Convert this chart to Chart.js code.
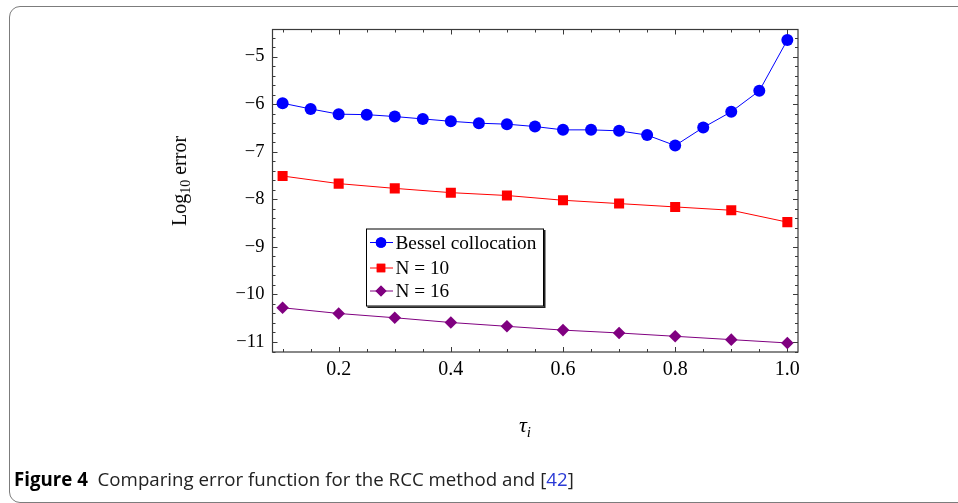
<!DOCTYPE html>
<html>
<head>
<meta charset="utf-8">
<script src="https://cdn.jsdelivr.net/npm/chart.js@4"></script>
<style>
  html, body { margin: 0; padding: 0; background: #fff; }
  body { width: 958px; height: 503px; position: relative; overflow: hidden; }
  #frame { position: absolute; left: 9px; top: 6px; width: 1100px; height: 497px;
           border: 1.6px solid #7c7c7c; border-radius: 11px; box-sizing: border-box; }
  #c { position: absolute; left: 0; top: 0; }
  .ytitle { position: absolute; left: 181px; top: 181px; transform: translate(-50%, -50%) rotate(-90deg);
            font-family: 'Liberation Serif', 'Times New Roman', serif; font-size: 20px; white-space: nowrap; color: #000; }
  .ytitle sub { font-size: 14px; vertical-align: -4px; }
  .xtitle { position: absolute; left: 525px; top: 426px; transform: translate(-50%, -50%);
            font-family: 'Liberation Serif', 'Times New Roman', serif; font-style: italic; font-size: 22px; white-space: nowrap; color: #000; }
  .xtitle sub { font-size: 15px; vertical-align: -5px; }
  .caption { position: absolute; left: 14px; top: 466px; font-family: 'Open Sans', 'Noto Sans', sans-serif;
             font-size: 18.7px; color: #222; white-space: nowrap; letter-spacing: 0px; }
  .caption b { color: #000; font-weight: 700; }
  .caption a { color: #2a3ad6; text-decoration: none; }
</style>
</head>
<body>
<div id="frame"></div>
<canvas id="c" width="958" height="503"></canvas>
<div class="ytitle">Log<sub>10</sub> error</div>
<div class="xtitle">τ<sub>i</sub></div>
<div class="caption"><b>Figure 4</b>&nbsp; Comparing error function for the RCC method and [<a>42</a>]</div>
<script>
// ---- data ----
const tauBessel = [0.1, 0.15, 0.2, 0.25, 0.3, 0.35, 0.4, 0.45, 0.5, 0.55, 0.6, 0.65, 0.7, 0.75, 0.8, 0.85, 0.9, 0.95, 1.0];
const besselErr = [-5.98, -6.10, -6.21, -6.22, -6.26, -6.31, -6.36, -6.40, -6.42, -6.47, -6.54, -6.54, -6.56, -6.65, -6.87, -6.49, -6.16, -5.72, -4.65];
const tauN = [0.1, 0.2, 0.3, 0.4, 0.5, 0.6, 0.7, 0.8, 0.9, 1.0];
const n10Err = [-7.51, -7.67, -7.77, -7.86, -7.92, -8.02, -8.09, -8.16, -8.23, -8.48];
const n16Err = [-10.28, -10.40, -10.49, -10.59, -10.67, -10.75, -10.81, -10.88, -10.95, -11.02];
const seriesNames = ['Bessel collocation', 'N = 10', 'N = 16'];
const xTickLabels = [0.2, 0.4, 0.6, 0.8, 1.0];
const yTickLabels = [-5, -6, -7, -8, -9, -10, -11];

const pts = (xs, ys) => xs.map((x, i) => ({ x: x, y: ys[i] }));
const serif = "'Liberation Serif', 'Times New Roman', serif";

const datasets = [
  { label: seriesNames[0], data: pts(tauBessel, besselErr), borderColor: '#0000ff', backgroundColor: '#0000ff',
    pointStyle: 'circle', pointRadius: 6, legendRadius: 5.3, borderWidth: 1, pointBorderWidth: 0 },
  { label: seriesNames[1], data: pts(tauN, n10Err), borderColor: '#ff0000', backgroundColor: '#ff0000',
    pointStyle: 'rect', pointRadius: 7.1, legendRadius: 6, borderWidth: 1, pointBorderWidth: 0 },
  { label: seriesNames[2], data: pts(tauN, n16Err), borderColor: '#800080', backgroundColor: '#800080',
    pointStyle: 'rectRot', pointRadius: 6.3, legendRadius: 5.5, borderWidth: 1, pointBorderWidth: 0 }
];

const framePlugin = {
  id: 'framePlugin',
  beforeDatasetsDraw(chart) {
    const { ctx, chartArea: a, scales: { x, y } } = chart;
    ctx.save();
    ctx.strokeStyle = '#3a3a3a';
    ctx.lineWidth = 1.2;
    ctx.strokeRect(a.left, a.top, a.right - a.left, a.bottom - a.top);
    const major = 5, minor = 3;
    ctx.lineWidth = 1;
    ctx.beginPath();
    // x ticks (bottom & top)
    for (let k = Math.ceil(x.min / 0.05 - 1e-9); k * 0.05 <= x.max + 1e-9; k++) {
      const v = k * 0.05;
      const isMajor = Math.abs(v / 0.2 - Math.round(v / 0.2)) < 1e-6;
      const len = isMajor ? major : minor;
      const px = Math.round(x.getPixelForValue(v)) + 0.5;
      ctx.moveTo(px, a.bottom); ctx.lineTo(px, a.bottom - len);
      ctx.moveTo(px, a.top); ctx.lineTo(px, a.top + len);
    }
    // y ticks (left & right)
    for (let k = Math.ceil(y.min / 0.2 - 1e-9); k * 0.2 <= y.max + 1e-9; k++) {
      const v = k * 0.2;
      const isMajor = Math.abs(v - Math.round(v)) < 1e-6;
      const len = isMajor ? major : minor;
      const py = Math.round(y.getPixelForValue(v)) + 0.5;
      ctx.moveTo(a.left, py); ctx.lineTo(a.left + len, py);
      ctx.moveTo(a.right, py); ctx.lineTo(a.right - len, py);
    }
    ctx.stroke();
    ctx.restore();
  },
  afterDraw(chart) {
    const { ctx, chartArea: a } = chart;
    const bx = a.left + 93.5, by = a.top + 199, bw = 178, bh = 78;
    ctx.save();
    ctx.fillStyle = '#222';
    ctx.fillRect(bx + 1.5, by + 1.5, bw, bh);
    ctx.fillStyle = '#fff';
    ctx.fillRect(bx, by, bw, bh);
    ctx.strokeStyle = '#000';
    ctx.lineWidth = 1;
    ctx.strokeRect(bx + 0.5, by + 0.5, bw - 1, bh - 1);
    const rows = [14, 39.5, 62.5];
    chart.data.datasets.forEach((ds, i) => {
      const cy = by + rows[i];
      ctx.strokeStyle = ds.borderColor;
      ctx.lineWidth = 1;
      ctx.beginPath();
      ctx.moveTo(bx + 4, cy); ctx.lineTo(bx + 27, cy);
      ctx.stroke();
      ctx.fillStyle = ds.backgroundColor;
      Chart.helpers.drawPoint(ctx, { pointStyle: ds.pointStyle, radius: ds.legendRadius, borderWidth: 0, rotation: 0 }, bx + 15, cy);
      ctx.fill();
      ctx.fillStyle = '#000';
      ctx.font = '19.3px ' + serif;
      ctx.textBaseline = 'middle';
      ctx.textAlign = 'left';
      ctx.fillText(ds.label, bx + 29.5, cy + 1);
    });
    ctx.restore();
  }
};

new Chart(document.getElementById('c'), {
  type: 'line',
  data: { datasets: datasets },
  plugins: [framePlugin],
  options: {
    responsive: false,
    animation: false,
    devicePixelRatio: 1,
    layout: { padding: { left: 0, top: 29.5, right: 160, bottom: 0 } },
    plugins: { legend: { display: false }, tooltip: { enabled: false } },
    elements: { line: { tension: 0 } },
    scales: {
      x: {
        type: 'linear', min: 0.082, max: 1.019,
        grid: { display: false, drawTicks: false }, border: { display: false },
        afterBuildTicks: s => { s.ticks = xTickLabels.map(v => ({ value: v })); },
        afterFit: s => { s.height = 151; },
        ticks: { color: '#000', padding: 6, maxRotation: 0, autoSkip: false,
                 font: { family: serif, size: 20 }, callback: v => Number(v).toFixed(1) }
      },
      y: {
        type: 'linear', min: -11.21, max: -4.43,
        grid: { display: false, drawTicks: false }, border: { display: false },
        afterBuildTicks: s => { s.ticks = yTickLabels.map(v => ({ value: v })); },
        afterFit: s => { s.width = 272.5; },
        ticks: { color: '#000', padding: 8, autoSkip: false,
                 font: { family: serif, size: 18.5 }, callback: v => (v < 0 ? '\u2212' : '') + Math.abs(v) }
      }
    }
  }
});
</script>
</body>
</html>
